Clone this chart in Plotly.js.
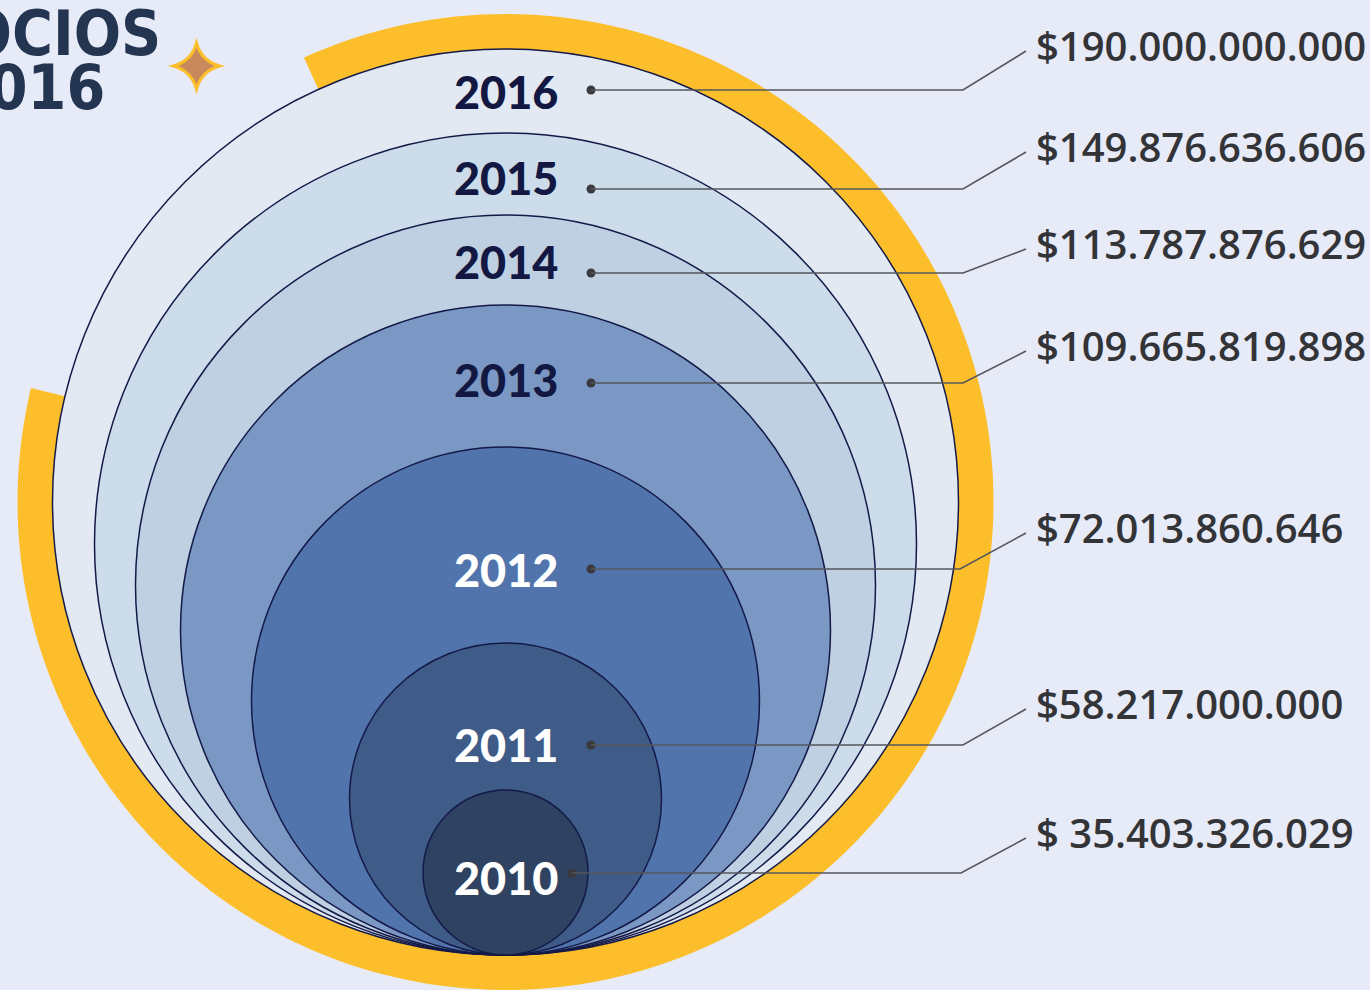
<!DOCTYPE html>
<html>
<head>
<meta charset="utf-8">
<script src="https://cdn.plot.ly/plotly-3.0.1.min.js"></script>
<style>
  html, body { margin: 0; padding: 0; background: #e7eaf7; }
  #chart { width: 1370px; height: 990px; }
</style>
</head>
<body>
<div id="chart"></div>
<script>
// ---- data ----
const years = ['2010', '2011', '2012', '2013', '2014', '2015', '2016'];
const amounts = [35403326029, 58217000000, 72013860646, 109665819898, 113787876629, 149876636606, 190000000000];
const amountLabels = ['$ 35.403.326.029', '$58.217.000.000', '$72.013.860.646', '$109.665.819.898',
                      '$113.787.876.629', '$149.876.636.606', '$190.000.000.000'];
const titleLines = ['NEGOCIOS', '2016'];

// ---- visual layout (pixel space of the graphic) ----
const ringRadius = [82.5, 156, 254, 325, 370, 411, 453];   // circle sizes as drawn
const fills = ['#2f4262', '#3f5b87', '#5174ad', '#7b98c5', '#bfd0e2', '#cddcea', '#e3e9f3'];
const yearColors = ['#ffffff', '#ffffff', '#ffffff', '#121842', '#121842', '#121842', '#121842'];
const yearY = [878, 745, 570, 380, 262, 178, 92];
const dotX = [572, 591, 591, 591, 591, 591, 591];
const dotY = [873, 745, 569, 383, 273, 189, 90];
const elbowX = [961, 963, 960, 963, 963, 963, 963];
const labelY = [832, 703, 527, 345, 243, 146, 45];

const W = 1370, H = 990;
const cx = 505.5, baseY = 955;   // all circles touch at the bottom

const shapes = [];

// yellow open ring behind the outer circle
(function () {
  const rOut = 488, rIn = 452, ccy = baseY - 453;
  const a0 = 114.4, a1 = 166.5 - 360;
  const n = 200;
  const pts = [];
  for (let i = 0; i <= n; i++) {
    const a = (a0 + (a1 - a0) * i / n) * Math.PI / 180;
    pts.push([cx + rOut * Math.cos(a), ccy - rOut * Math.sin(a)]);
  }
  for (let i = n; i >= 0; i--) {
    const a = (a0 + (a1 - a0) * i / n) * Math.PI / 180;
    pts.push([cx + rIn * Math.cos(a), ccy - rIn * Math.sin(a)]);
  }
  const d = 'M ' + pts.map(p => p[0].toFixed(2) + ',' + p[1].toFixed(2)).join(' L ') + ' Z';
  shapes.push({ type: 'path', xref: 'x', yref: 'y', path: d, fillcolor: '#fcbf2b', line: { width: 0 }, layer: 'below' });
})();

// nested circles, largest first
for (let i = years.length - 1; i >= 0; i--) {
  const r = ringRadius[i];
  shapes.push({
    type: 'circle', xref: 'x', yref: 'y',
    x0: cx - r, x1: cx + r, y0: baseY - 2 * r, y1: baseY,
    fillcolor: fills[i], line: { color: '#141a48', width: 1.5 }, layer: 'below'
  });
}

// leader lines
for (let i = 0; i < years.length; i++) {
  shapes.push({
    type: 'path', xref: 'x', yref: 'y',
    path: `M ${dotX[i]},${dotY[i]} L ${elbowX[i]},${dotY[i]} L 1026,${labelY[i] + 6}`,
    line: { color: '#55575e', width: 1.6 }
  });
}

// sparkle star
(function () {
  const sx = 196.5, sy = 66, R = 23, k = 5;
  const d = `M ${sx},${sy - R} Q ${sx + k},${sy - k} ${sx + R},${sy} Q ${sx + k},${sy + k} ${sx},${sy + R} ` +
            `Q ${sx - k},${sy + k} ${sx - R},${sy} Q ${sx - k},${sy - k} ${sx},${sy - R} Z`;
  shapes.push({ type: 'path', xref: 'x', yref: 'y', path: d, fillcolor: '#c98a5b', line: { color: '#fcbf2b', width: 3 } });
})();

const annotations = [];
for (let i = 0; i < years.length; i++) {
  annotations.push({
    x: cx, y: yearY[i], xref: 'x', yref: 'y', text: years[i], showarrow: false,
    xanchor: 'center', yanchor: 'middle',
    font: { family: 'Lato, Roboto, "DejaVu Sans", sans-serif', size: 45, color: yearColors[i], weight: 900 }
  });
  annotations.push({
    x: 1035, y: labelY[i], xref: 'x', yref: 'y', text: amountLabels[i], showarrow: false,
    xanchor: 'left', yanchor: 'middle', borderpad: 0,
    font: { family: '"Open Sans", sans-serif', size: 40, color: '#333438', weight: 600 }
  });
}
annotations.push({
  x: 162, y: 33, xref: 'x', yref: 'y', text: titleLines[0], showarrow: false,
  xanchor: 'right', yanchor: 'middle', borderpad: 0,
  font: { family: '"Liberation Sans Narrow", "DejaVu Sans Condensed", sans-serif', size: 62, color: '#243552', weight: 700 }
});
annotations.push({
  x: 106, y: 87, xref: 'x', yref: 'y', text: titleLines[1], showarrow: false,
  xanchor: 'right', yanchor: 'middle', borderpad: 0,
  font: { family: '"Liberation Sans Narrow", "DejaVu Sans Condensed", sans-serif', size: 62, color: '#243552', weight: 700 }
});

const dotTrace = {
  type: 'scatter', mode: 'markers', x: dotX, y: dotY,
  marker: { size: 9, color: '#3a3a3e' }, hoverinfo: 'text',
  text: years.map((y, i) => y + ': ' + amountLabels[i] + ' (' + amounts[i] + ')')
};

const layout = {
  width: W, height: H,
  margin: { l: 0, r: 0, t: 0, b: 0, pad: 0 },
  paper_bgcolor: '#e7eaf7', plot_bgcolor: '#e7eaf7',
  xaxis: { range: [0, W], visible: false, fixedrange: true },
  yaxis: { range: [H, 0], visible: false, fixedrange: true },
  showlegend: false,
  shapes: shapes,
  annotations: annotations
};

Plotly.newPlot('chart', [dotTrace], layout, { displayModeBar: false, staticPlot: true });
</script>
</body>
</html>
